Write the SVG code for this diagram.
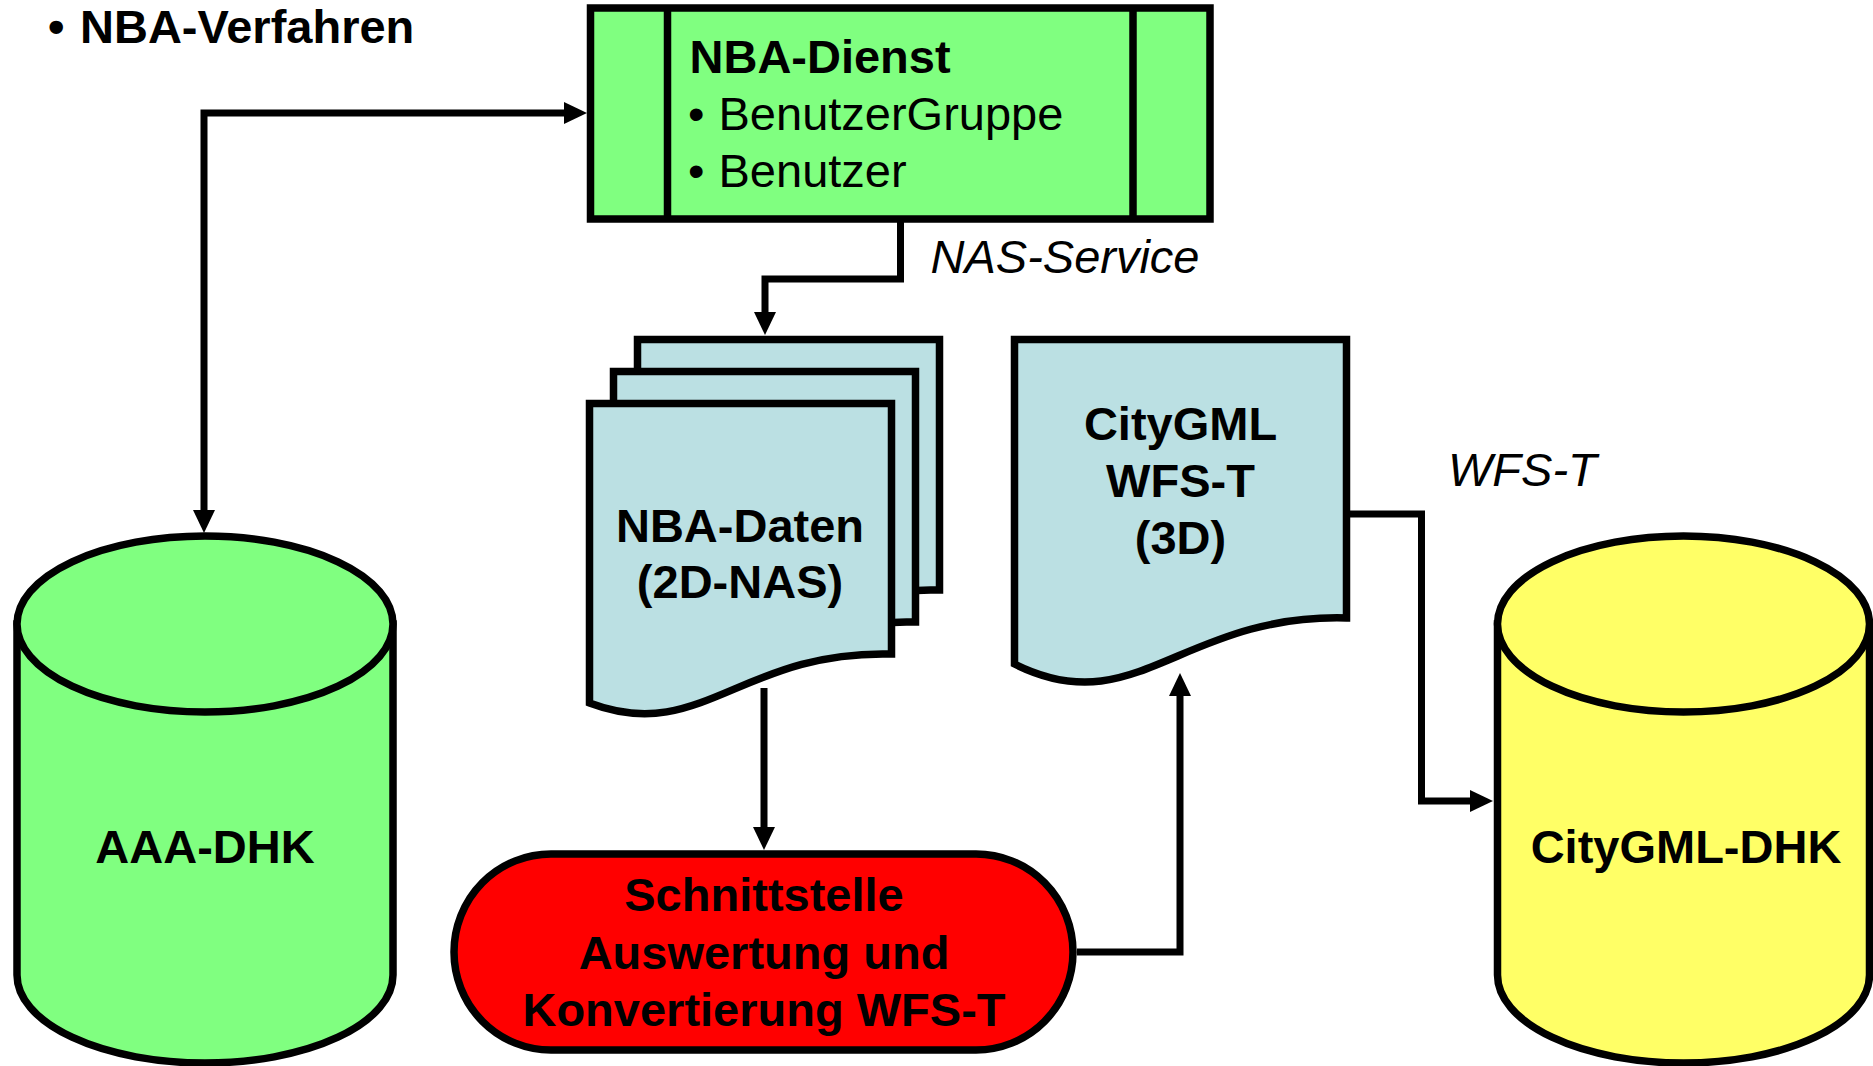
<svg xmlns="http://www.w3.org/2000/svg" width="1873" height="1066" viewBox="0 0 1873 1066">
<defs>
<style>
.t{font-family:"Liberation Sans",Arial,sans-serif;font-size:47px;fill:#000}
.b{font-weight:bold}
.i{font-style:italic}
.m{text-anchor:middle}
.sh{stroke:#000;stroke-width:7.5;stroke-linejoin:miter}
.c{fill:none;stroke:#000;stroke-width:7;stroke-linejoin:miter}
.doc{fill:#BBE0E3}
</style>
<marker id="ah" viewBox="0 0 23 22" refX="3" refY="11" markerWidth="23" markerHeight="22" markerUnits="userSpaceOnUse" orient="auto-start-reverse">
<path d="M0,0 L23,11 L0,22 Z" fill="#000"/>
</marker>
<path id="docShape" d="M0,0 H302 V250.5 C151,246.5 111,341.5 0,299.5 Z"/>
</defs>
<rect width="1873" height="1066" fill="#fff"/>

<g id="title">
<text class="t b" x="48" y="43">•</text>
<text class="t b" x="80" y="43">NBA-Verfahren</text>
</g>

<g id="nba-dienst">
<rect class="sh" x="590.5" y="8" width="619.5" height="211" fill="#80FF80"/>
<line class="sh" x1="667.5" y1="8" x2="667.5" y2="219"/>
<line class="sh" x1="1133" y1="8" x2="1133" y2="219"/>
<text class="t b" x="689.5" y="73">NBA-Dienst</text>
<text class="t"><tspan x="688" y="130">•</tspan><tspan x="718.5" y="130">BenutzerGruppe</tspan></text>
<text class="t"><tspan x="688" y="187">•</tspan><tspan x="718.5" y="187">Benutzer</tspan></text>
</g>

<g id="nba-daten">
<use href="#docShape" class="doc sh" transform="translate(637.5,339.5)"/>
<use href="#docShape" class="doc sh" transform="translate(613.5,371.5)"/>
<use href="#docShape" class="doc sh" transform="translate(589.5,403.5)"/>
<text class="t b m" x="740" y="542">NBA-Daten</text>
<text class="t b m" x="740" y="598">(2D-NAS)</text>
</g>

<g id="citygml-wfst">
<path class="doc sh" d="M1014.5,339.5 H1346.5 V618 C1180.5,613.5 1135.5,724.5 1014.5,664 Z"/>
<text class="t b m" x="1180.5" y="440">CityGML</text>
<text class="t b m" x="1180.5" y="497">WFS-T</text>
<text class="t b m" x="1180.5" y="554">(3D)</text>
</g>

<g id="aaa-dhk">
<path class="sh" fill="#80FF80" d="M17,624 V975 A188,88 0 0 0 393,975 V624 Z"/>
<ellipse class="sh" fill="#80FF80" cx="205" cy="624" rx="188" ry="88"/>
<text class="t b m" x="205" y="863">AAA-DHK</text>
</g>

<g id="citygml-dhk">
<path class="sh" fill="#FFFF66" d="M1497.5,624 V975 A186,88 0 0 0 1869.5,975 V624 Z"/>
<ellipse class="sh" fill="#FFFF66" cx="1683.5" cy="624" rx="186" ry="88"/>
<text class="t b m" x="1686" y="863">CityGML-DHK</text>
</g>

<g id="schnittstelle">
<rect class="sh" x="454" y="854" width="619" height="196" rx="97" ry="98" fill="#FF0000"/>
<text class="t b m" x="764" y="911">Schnittstelle</text>
<text class="t b m" x="764" y="969">Auswertung und</text>
<text class="t b m" x="764" y="1026">Konvertierung WFS-T</text>
</g>

<g id="connectors">
<path class="c" d="M567,113 H204 V513" marker-start="url(#ah)" marker-end="url(#ah)"/>
<path class="c" d="M900.5,222 V279 H765 V315" marker-end="url(#ah)"/>
<path class="c" d="M764,688 V830" marker-end="url(#ah)"/>
<path class="c" d="M1077,952 H1180 V693" marker-end="url(#ah)"/>
<path class="c" d="M1350,514 H1421.5 V801 H1473" marker-end="url(#ah)"/>
<text class="t i" x="930.5" y="273">NAS-Service</text>
<text class="t i" x="1448" y="486">WFS-T</text>
</g>
</svg>
